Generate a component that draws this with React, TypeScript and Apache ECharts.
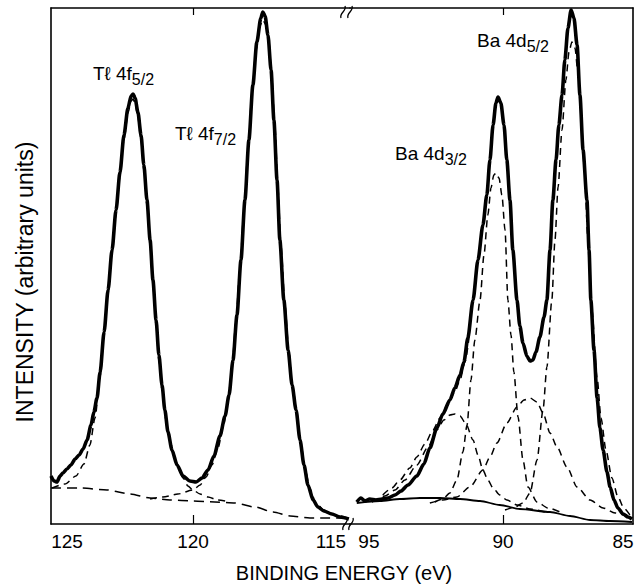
import React, { useEffect, useRef } from "react";
import * as echarts from "echarts";

const FONT = '"Liberation Sans", Arial, Helvetica, sans-serif';

// ---- Tl 4f region (binding energy in eV, intensity in arbitrary units) ----
const tlSolidE = [125.0, 124.89, 124.79, 124.68, 124.58, 124.44, 124.3, 124.15, 124.01, 123.87, 123.73, 123.59, 123.49, 123.38, 123.27, 123.13, 122.99, 122.85, 122.71, 122.57, 122.43, 122.29, 122.18, 122.11, 122.04, 121.94, 121.83, 121.73, 121.62, 121.51, 121.41, 121.3, 121.2, 121.09, 120.99, 120.88, 120.74, 120.56, 120.35, 120.11, 119.89, 119.68, 119.47, 119.26, 119.05, 118.87, 118.73, 118.59, 118.45, 118.31, 118.17, 118.03, 117.89, 117.75, 117.61, 117.54, 117.46, 117.36, 117.25, 117.15, 117.04, 116.94, 116.8, 116.65, 116.51, 116.37, 116.23, 116.09, 115.95, 115.77, 115.6, 115.39, 115.11, 114.82, 114.51];
const tlSolidI = [48, 43, 42, 48, 51, 55, 59, 65, 69, 75, 84, 99, 112, 126, 152, 192, 234, 274, 314, 352, 389, 416, 428, 430, 426, 412, 389, 359, 324, 284, 244, 204, 169, 139, 114, 92, 74, 59, 48, 43, 42, 46, 54, 68, 88, 108, 129, 164, 209, 264, 324, 384, 439, 482, 506, 512, 508, 489, 454, 404, 344, 284, 224, 174, 139, 114, 84, 59, 39, 24, 17, 13, 10, 7, 5];

const tlFit52E = [124.96, 124.51, 124.12, 123.84, 123.63, 123.45, 123.27, 123.13, 122.99, 122.85, 122.71, 122.57, 122.43, 122.29, 122.18, 122.11, 122.04, 121.94, 121.83, 121.73, 121.62, 121.51, 121.41, 121.3, 121.2, 121.09, 120.95, 120.77, 120.56, 120.35, 120.18, 120.0, 119.75, 119.47, 119.12, 118.7];
const tlFit52I = [36, 40, 48, 60, 79, 106, 148, 189, 231, 271, 310, 348, 384, 411, 423, 425, 421, 407, 384, 354, 319, 279, 239, 199, 164, 134, 104, 79, 60, 46, 38, 34, 30, 27, 24, 22];

const tlFit72E = [121.51, 121.06, 120.53, 120.0, 119.75, 119.54, 119.33, 119.12, 118.94, 118.77, 118.63, 118.49, 118.35, 118.2, 118.06, 117.92, 117.78, 117.64, 117.54, 117.43, 117.32, 117.22, 117.11, 117.01, 116.9, 116.76, 116.62, 116.48, 116.34, 116.2, 116.06, 115.88, 115.67, 115.39, 115.0, 114.54];
const tlFit72I = [25, 27, 30, 34, 39, 47, 59, 76, 96, 122, 156, 202, 256, 316, 376, 432, 474, 498, 504, 499, 480, 444, 396, 336, 278, 219, 171, 136, 110, 81, 56, 35, 21, 14, 9, 6];

const tlBackE = [125.0, 123.98, 123.03, 122.22, 121.51, 120.81, 120.0, 119.23, 118.52, 117.82, 117.18, 116.58, 115.88, 115.18, 114.51];
const tlBackI = [36, 36, 34, 30, 26, 24, 23, 22, 21, 17, 12, 8, 6, 6, 6];

// ---- Ba 4d region ----
const baSolidE = [95.62, 95.46, 95.31, 95.12, 94.88, 94.65, 94.42, 94.15, 93.92, 93.65, 93.31, 93.04, 92.81, 92.54, 92.31, 92.04, 91.85, 91.65, 91.5, 91.35, 91.15, 90.96, 90.77, 90.62, 90.5, 90.38, 90.27, 90.19, 90.08, 89.96, 89.85, 89.73, 89.62, 89.46, 89.35, 89.23, 89.08, 88.96, 88.85, 88.73, 88.58, 88.42, 88.31, 88.19, 88.08, 87.96, 87.85, 87.73, 87.62, 87.5, 87.38, 87.27, 87.15, 87.04, 86.92, 86.77, 86.69, 86.62, 86.5, 86.38, 86.27, 86.15, 86.0, 85.88, 85.73, 85.58, 85.38, 85.19, 85.04];
const baSolidI = [22, 26, 23, 25, 24, 25, 26, 29, 33, 39, 48, 60, 76, 96, 110, 124, 136, 149, 162, 186, 224, 264, 299, 329, 364, 399, 421, 427, 421, 399, 364, 324, 274, 224, 198, 181, 168, 163, 164, 172, 187, 207, 224, 274, 324, 364, 399, 429, 464, 496, 514, 506, 479, 429, 374, 324, 274, 224, 174, 126, 96, 74, 52, 37, 24, 16, 10, 7, 5];

const baEnvE = [94.62, 94.27, 93.96, 93.58, 93.31, 93.0, 92.69, 92.42, 92.15, 91.85, 91.65, 91.46, 91.27];
const baEnvI = [29, 36, 44, 56, 67, 80, 94, 106, 118, 132, 144, 162, 194];

const ba32E = [92.62, 92.31, 92.04, 91.77, 91.54, 91.38, 91.23, 91.08, 90.88, 90.73, 90.58, 90.46, 90.35, 90.27, 90.15, 90.04, 89.92, 89.81, 89.69, 89.58, 89.42, 89.23, 89.04, 88.69, 88.27, 87.81];
const ba32I = [22, 25, 31, 44, 72, 99, 144, 184, 224, 269, 309, 336, 349, 351, 346, 329, 294, 224, 189, 152, 107, 64, 37, 22, 16, 12];

const ba52E = [89.92, 89.54, 89.23, 88.96, 88.69, 88.46, 88.31, 88.12, 88.0, 87.88, 87.73, 87.58, 87.46, 87.35, 87.23, 87.12, 87.0, 86.88, 86.73, 86.58, 86.38, 86.23, 86.04, 85.81, 85.58, 85.35, 85.12];
const ba52I = [14, 17, 21, 31, 64, 114, 157, 224, 284, 337, 394, 444, 472, 482, 476, 452, 412, 359, 284, 214, 146, 106, 74, 46, 27, 16, 9];

const baSat32E = [95.04, 94.54, 94.15, 93.77, 93.31, 92.88, 92.54, 92.27, 92.04, 91.85, 91.65, 91.42, 91.15, 90.96, 90.77, 90.58, 90.38, 90.12, 89.85, 89.46, 88.96, 88.38];
const baSat32I = [22, 28, 34, 44, 59, 77, 94, 104, 109, 110, 108, 100, 84, 69, 54, 44, 36, 29, 24, 19, 15, 12];

const baSat52E = [92.81, 92.31, 91.77, 91.27, 90.77, 90.5, 90.23, 89.85, 89.46, 89.19, 88.96, 88.69, 88.46, 88.19, 87.92, 87.54, 87.15, 86.65, 86.15, 85.69, 85.12];
const baSat52I = [21, 24, 27, 37, 54, 67, 81, 101, 117, 124, 126, 122, 111, 91, 77, 57, 37, 24, 16, 11, 7];

const baBackE = [95.62, 94.73, 93.96, 93.19, 92.42, 91.65, 90.88, 90.12, 89.35, 88.19, 87.42, 86.65, 85.88, 85.04];
const baBackI = [21, 23, 25, 26, 26, 25, 23, 19, 15, 12, 8, 4, 3, 2];

// axis ticks / labels
const tlLabels = [125, 120, 115];
const tlTicks = [120];
const baLabels = [95, 90, 85];
const baTicks = [90];

const zip = (xs: number[], ys: number[]) => xs.map((x, i) => [x, ys[i]]);

const solid = { color: "#000", width: 3.6 };
const dashed = { color: "#000", width: 1.5, type: [7, 5] as number[] };

function line(name: string, xi: number, e: number[], v: number[], lineStyle: any, z = 2) {
  return {
    name,
    type: "line",
    xAxisIndex: xi,
    yAxisIndex: xi < 2 ? 0 : 1,
    data: zip(e, v),
    symbol: "none",
    showSymbol: false,
    smooth: 0.25,
    smoothMonotone: "x",
    lineStyle,
    z,
    silent: true,
  };
}

const labelRich = {
  l: { fontSize: 19, fontFamily: FONT, color: "#000", padding: [0, 0, 0, 32] },
  p: { fontSize: 19, fontFamily: FONT, color: "#000", padding: [0, 8, 0, 0] },
  r: { fontSize: 19, fontFamily: FONT, color: "#000", padding: [0, 20, 0, 0] },
  n: { fontSize: 19, fontFamily: FONT, color: "#000" },
};

function xAxis(grid: number, min: number, max: number, pos: "top" | "bottom", ticks: number[], labels: number[] | null) {
  return {
    type: "value",
    gridIndex: grid,
    min,
    max,
    inverse: true,
    position: pos,
    axisLine: { show: true, onZero: false, lineStyle: { color: "#000", width: 1.6 } },
    axisTick: { show: true, inside: true, length: pos === "bottom" ? 9 : 7, customValues: ticks, lineStyle: { color: "#000", width: 1.2 } },
    axisLabel: labels
      ? {
          show: true,
          customValues: labels,
          margin: 8,
          color: "#000",
          fontSize: 19,
          fontFamily: FONT,
          formatter: (v: number) => {
            if (v === 125) return "{l|125}";
            if (v === 115) return "{p|115}";
            if (v === 95) return "{p|95}";
            if (v === 85) return "{r|85}";
            return "{n|" + v + "}";
          },
          rich: labelRich,
        }
      : { show: false },
    splitLine: { show: false },
  };
}

function yAxis(grid: number, pos: "left" | "right") {
  return {
    type: "value",
    gridIndex: grid,
    min: 0,
    max: 516,
    position: pos,
    axisLine: { show: true, onZero: false, lineStyle: { color: "#000", width: 1.6 } },
    axisTick: { show: false },
    axisLabel: { show: false },
    splitLine: { show: false },
  };
}

function peakLabel(x: number, y: number, main: string, sub: string) {
  return {
    type: "text",
    x,
    y,
    z: 10,
    style: {
      text: "{m|" + main + "}{s|" + sub + "}",
      fill: "#000",
      align: "left",
      verticalAlign: "top",
      rich: {
        m: { fontSize: 19, fontFamily: FONT, lineHeight: 22, verticalAlign: "top" },
        s: { fontSize: 16, fontFamily: FONT, lineHeight: 20, verticalAlign: "top", padding: [7, 0, 0, 0] },
      },
    },
  };
}

function breakMark(x: number, y: number) {
  return {
    type: "bezierCurve",
    z: 10,
    shape: { x1: x - 2, y1: y + 6, x2: x + 2, y2: y - 6, cpx1: x - 4, cpy1: y + 1, cpx2: x + 4, cpy2: y - 1 },
    style: { stroke: "#000", lineWidth: 1.3, fill: null },
  };
}

export default function App() {
  const ref = useRef<HTMLDivElement>(null);
  useEffect(() => {
    if (!ref.current) return;
    const chart = echarts.init(ref.current, null, { renderer: "svg" });
    chart.setOption({
      animation: false,
      backgroundColor: "#fff",
      grid: [
        { left: 51, top: 8, width: 299, height: 516 },
        { left: 350, top: 8, width: 283, height: 516 },
      ],
      xAxis: [
        xAxis(0, 114.47, 125, "bottom", tlTicks, tlLabels),
        xAxis(0, 114.47, 125, "top", tlTicks, null),
        xAxis(1, 85, 95.88, "bottom", baTicks, baLabels),
        xAxis(1, 85, 95.88, "top", baTicks, null),
      ],
      yAxis: [yAxis(0, "left"), yAxis(1, "right")],
      series: [
        line("Tl background", 0, tlBackE, tlBackI, { color: "#000", width: 1.5, type: [10, 6] }),
        line("Tl 4f5/2 fit", 0, tlFit52E, tlFit52I, dashed),
        line("Tl 4f7/2 fit", 0, tlFit72E, tlFit72I, dashed),
        line("Tl 4f data", 0, tlSolidE, tlSolidI, solid, 5),
        line("Ba background", 2, baBackE, baBackI, { color: "#000", width: 1.8 }),
        line("Ba envelope", 2, baEnvE, baEnvI, dashed),
        line("Ba 4d3/2 fit", 2, ba32E, ba32I, dashed),
        line("Ba 4d5/2 fit", 2, ba52E, ba52I, dashed),
        line("Ba 4d3/2 satellite", 2, baSat32E, baSat32I, dashed),
        line("Ba 4d5/2 satellite", 2, baSat52E, baSat52I, dashed),
        line("Ba 4d data", 2, baSolidE, baSolidI, solid, 5),
      ],
      graphic: [
        {
          type: "text",
          x: 25,
          y: 282,
          rotation: Math.PI / 2,
          style: { text: "INTENSITY (arbitrary units)", fill: "#000", fontSize: 23, fontFamily: FONT, align: "center", verticalAlign: "middle" },
        },
        {
          type: "text",
          x: 344,
          y: 573,
          style: { text: "BINDING ENERGY (eV)", fill: "#000", fontSize: 20, fontFamily: FONT, align: "center", verticalAlign: "middle" },
        },
        peakLabel(93, 64, "T\u2113 4f", "5/2"),
        peakLabel(175, 124, "T\u2113 4f", "7/2"),
        peakLabel(477, 31, "Ba 4d", "5/2"),
        peakLabel(395, 144, "Ba 4d", "3/2"),
        breakMark(345, 524),
        breakMark(351, 524),
        breakMark(343, 12),
        breakMark(350, 12),
      ],
    });
    return () => chart.dispose();
  }, []);
  return <div ref={ref} style={{ position: "fixed", left: 0, top: 0, width: 637, height: 587 }} />;
}
